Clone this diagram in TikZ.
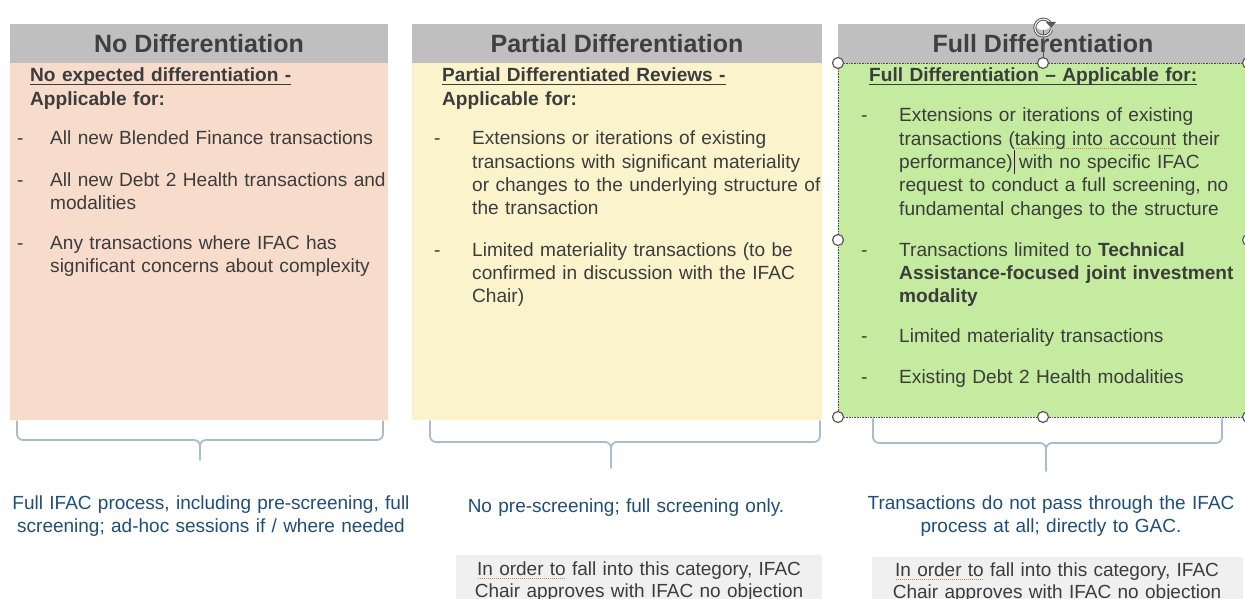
\documentclass[tikz,border=0pt]{standalone}
\usepackage{fontspec}
\setmainfont{Liberation Sans}
\usetikzlibrary{arrows.meta}
\definecolor{hdr}{HTML}{BFBFBF}
\definecolor{pinkbg}{HTML}{F7DBCB}
\definecolor{yellowbg}{HTML}{FAF3CC}
\definecolor{greenbg}{HTML}{C4EB9F}
\definecolor{txt}{HTML}{3C3C3C}
\definecolor{hdrtxt}{HTML}{3F3F3F}
\definecolor{bluetxt}{HTML}{1F4E79}
\definecolor{bracecol}{HTML}{A9BCD0}
\definecolor{notebg}{HTML}{F0F0F0}
\definecolor{spell}{HTML}{D08A3A}
\newcommand{\spl}[1]{\leavevmode\setbox0\hbox{#1}\rlap{\color{spell}\raisebox{-3.5pt}[0pt][0pt]{\hbox to \wd0{\cleaders\hbox to 2pt{\hss\rule{0.9pt}{0.9pt}\hss}\hfill}}}\box0\relax}
\newcommand{\myul}[1]{\leavevmode\setbox0\hbox{#1}\rlap{\raisebox{-3pt}[0pt][0pt]{\rule{\wd0}{1.2pt}}}\box0\relax}
\begin{document}
\begin{tikzpicture}[x=1pt,y=-1pt,
  body/.style={font=\fontsize{19.1}{23.3}\selectfont, text=txt, align=left, anchor=base west, inner sep=0pt, text width=#1},
  body/.default=360pt,
  dashmark/.style={font=\fontsize{19.1}{23.3}\selectfont, text=txt, anchor=base west, inner sep=0pt},
  title/.style={font=\fontsize{25}{28}\selectfont\bfseries, text=hdrtxt, inner sep=0pt, anchor=base},
  note/.style={font=\fontsize{19}{23}\selectfont, text=bluetxt, align=center, inner sep=0pt, anchor=base, text width=460pt},
  gnote/.style={font=\fontsize{19}{22.5}\selectfont, text=txt, align=center, inner sep=0pt, anchor=base, text width=400pt},
  brace/.style={draw=bracecol, line width=1.8pt, line cap=round},
  handle/.style={circle, draw=gray!70!black, fill=white, line width=1.2pt, minimum size=11pt, inner sep=0pt},
]
\useasboundingbox (0,0) rectangle (1245,599);
\fill[white] (0,0) rectangle (1245,599);

% ---- column panels
\fill[hdr] (10,24) rectangle (388,63);
\fill[pinkbg] (10,63) rectangle (388,420);
\fill[hdr] (412,24) rectangle (822,63);
\fill[yellowbg] (412,63) rectangle (822,420);
\fill[hdr] (838,24) rectangle (1245,63);
\fill[greenbg] (838,63) rectangle (1245,417);
\draw[gray!60!black, densely dotted, line width=0.6pt] (838,63) rectangle (1245,417);

% ---- titles
\node[title] (t1) at (199,53) {No Differentiation};
\node[title] (t2) at (617,53) {Partial Differentiation};
\node[title] (t3) at (1043,53) {Full Differentiation};

% ---- column 1
\node[body=370pt, font=\fontsize{19.1}{23.3}\selectfont\bfseries] (s1) at (30,82) {\myul{No expected differentiation -}\\Applicable for:};
\node[dashmark] (d11) at (17,145) {-};
\node[body] (b11) at (50,145) {All new Blended Finance transactions};
\node[dashmark] (d12) at (17,186) {-};
\node[body] (b12) at (50,186) {All new Debt 2 Health transactions and\\modalities};
\node[dashmark] (d13) at (17,249) {-};
\node[body] (b13) at (50,249) {Any transactions where IFAC has\\significant concerns about complexity};

% ---- column 2
\node[body=380pt, font=\fontsize{19.1}{23.3}\selectfont\bfseries] (s2) at (442,82) {\myul{Partial Differentiated Reviews -}\\Applicable for:};
\node[dashmark] (d21) at (434,145) {-};
\node[body] (b21) at (472,145) {Extensions or iterations of existing\\transactions with significant materiality\\or changes to the underlying structure of\\the transaction};
\node[dashmark] (d22) at (434,256) {-};
\node[body] (b22) at (472,256) {Limited materiality transactions (to be\\confirmed in discussion with the IFAC\\Chair)};

% ---- column 3
\node[body=380pt, font=\fontsize{19.1}{23.3}\selectfont\bfseries] (s3) at (869,82) {\myul{Full Differentiation -- Applicable for:}};
\node[dashmark] (d31) at (861,122) {-};
\node[body] (b31) at (899,122) {Extensions or iterations of existing\\transactions (\spl{taking into account} their\\performance) with no specific IFAC\\request to conduct a full screening, no\\fundamental changes to the structure};
\node[dashmark] (d32) at (861,256) {-};
\node[body] (b32) at (899,256) {Transactions limited to \textbf{Technical}\\\textbf{Assistance-focused joint investment}\\\textbf{modality}};
\node[dashmark] (d33) at (861,342) {-};
\node[body] (b33) at (899,342) {Limited materiality transactions};
\node[dashmark] (d34) at (861,383) {-};
\node[body] (b34) at (899,383) {Existing Debt 2 Health modalities};
\draw[violet!70!black, line width=0.8pt] (1014,150) -- (1014,174);

% ---- selection handles
\draw[gray!70!black, line width=0.8pt] (1043,29) -- (1043,58);
\node[handle] (h1) at (838,63) {};
\node[handle] (h2) at (1043,63) {};
\node[handle] (h3) at (838,240) {};
\node[handle] (h4) at (838,417) {};
\node[handle] (h5) at (1043,417) {};
\node[handle] (h6) at (1248,240) {};
\node[handle] (h7) at (1248,417) {};
\node[handle] (h8) at (1248,63) {};
\fill[white] (1043,20) circle (10pt);
\draw[gray!70!black, line width=3pt] (1051,24) arc[start angle=25, end angle=345, radius=8.5pt];
\draw[white, line width=1pt] (1051,24) arc[start angle=25, end angle=345, radius=8.5pt];
\fill[gray!70!black] (1046,22) -- (1056,22) -- (1051,28) -- cycle;

% ---- braces
\draw[brace] (17,421) -- (17,434) to[out=-90,in=180] (23,440) -- (194,440) to[out=0,in=90] (200,446) -- (200,460);
\draw[brace] (383,421) -- (383,434) to[out=-90,in=0] (377,440) -- (206,440) to[out=180,in=90] (200,446);
\draw[brace] (430,421) -- (430,436) to[out=-90,in=180] (436,442) -- (605,442) to[out=0,in=90] (611,448) -- (611,468);
\draw[brace] (820,421) -- (820,436) to[out=-90,in=0] (814,442) -- (617,442) to[out=180,in=90] (611,448);
\draw[brace] (873,419) -- (873,437) to[out=-90,in=180] (879,443) -- (1040,443) to[out=0,in=90] (1046,449) -- (1046,471);
\draw[brace] (1222,419) -- (1222,437) to[out=-90,in=0] (1216,443) -- (1052,443) to[out=180,in=90] (1046,449);

% ---- outcome notes
\node[note] (n1) at (211,509) {Full IFAC process, including pre-screening, full\\screening; ad-hoc sessions if / where needed};
\node[note] (n2) at (626,512) {No pre-screening; full screening only.};
\node[note] (n3) at (1051,509) {Transactions do not pass through the IFAC\\process at all; directly to GAC.};

% ---- condition boxes
\fill[notebg] (456,555) rectangle (822,599);
\fill[notebg] (872,557) rectangle (1243,599);
\node[gnote] (g2) at (639,575) {\spl{In order to} fall into this category, IFAC\\Chair approves with IFAC no objection};
\node[gnote] (g3) at (1057,576) {\spl{In order to} fall into this category, IFAC\\Chair approves with IFAC no objection};
\end{tikzpicture}
\end{document}
